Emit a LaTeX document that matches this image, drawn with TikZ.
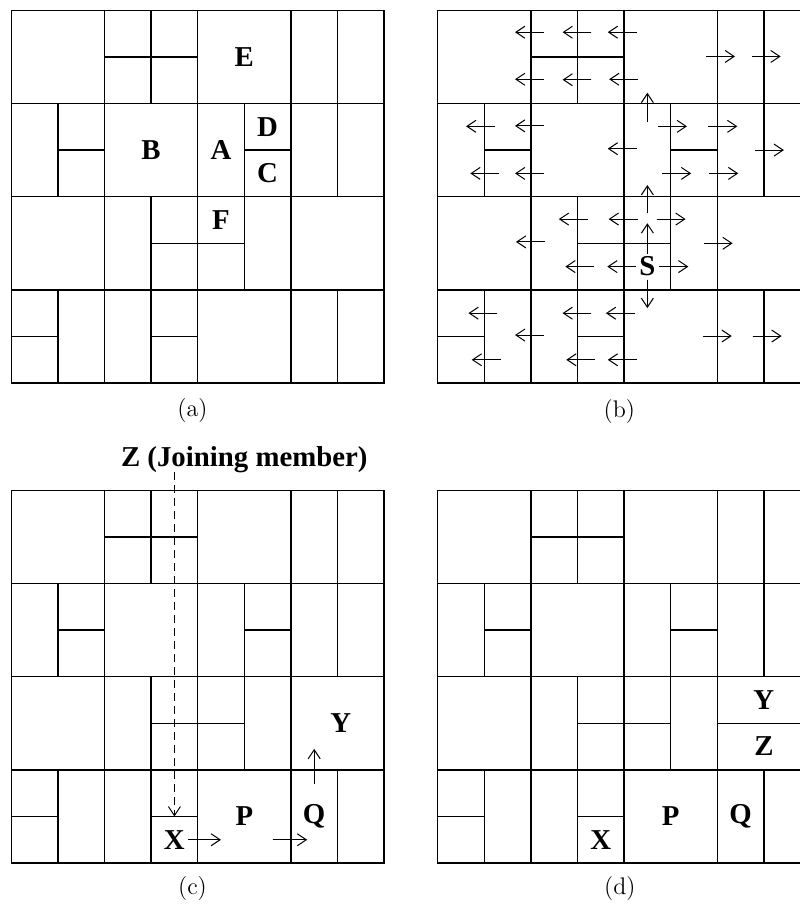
\documentclass[tikz,border=0pt]{standalone}
\usepackage{fontspec}
\newfontfamily\timesbf{Liberation Serif}
\usetikzlibrary{arrows.meta,calc}
\tikzset{
  gridline/.style={line width=0.75pt},
  arr/.style={line width=0.5pt,-{Straight Barb[length=4.5pt,width=6pt]}},
  lbl/.style={font=\timesbf\bfseries\fontsize{14.4pt}{17pt}\selectfont, inner sep=1.5pt},
  captxt/.style={font=\fontsize{12pt}{14pt}\selectfont, inner sep=0pt},
  joinline/.style={line width=0.5pt, dash pattern=on 4pt off 2.5pt, -{Straight Barb[length=4.5pt,width=6pt]}}
}
\newcommand\floorgrid{%
  \draw[gridline] (0,0) rectangle (8,-8);
  \foreach \r in {2,4,6} {\draw[gridline] (0,-\r) -- (8,-\r);}
  \foreach \c in {2,3,4,6,7} {\draw[gridline] (\c,0) -- (\c,-2);}
  \foreach \c in {1,2,4,5,6,7} {\draw[gridline] (\c,-2) -- (\c,-4);}
  \foreach \c in {2,3,4,5,6} {\draw[gridline] (\c,-4) -- (\c,-6);}
  \foreach \c in {1,2,3,4,6,7} {\draw[gridline] (\c,-6) -- (\c,-8);}
  \draw[gridline] (2,-1) -- (4,-1);
  \draw[gridline] (1,-3) -- (2,-3);
  \draw[gridline] (5,-3) -- (6,-3);
  \draw[gridline] (3,-5) -- (5,-5);
  \draw[gridline] (0,-7) -- (1,-7);
  \draw[gridline] (3,-7) -- (4,-7);
}
\begin{document}
\begin{tikzpicture}[x=23.3pt,y=23.3pt]
\useasboundingbox (-0.2425,0.221) rectangle (16.925,-19.243);
\clip (-0.2425,0.221) rectangle (16.925,-19.243);

% ---------- (a)
\begin{scope}
  \floorgrid
  \node[lbl] (aE) at (5,-1) {E};
  \node[lbl] (aB) at (3,-3) {B};
  \node[lbl] (aA) at (4.5,-3) {A};
  \node[lbl] (aD) at (5.5,-2.5) {D};
  \node[lbl] (aC) at (5.5,-3.5) {C};
  \node[lbl] (aF) at (4.5,-4.5) {F};
\end{scope}
\node[captxt] (capa) at (3.888,-8.58) {(a)};

% ---------- (b)
\begin{scope}[shift={(9.15,0)}]
  \floorgrid
  \node[lbl] (S) at (4.5,-5.5) {S};
  \foreach \x/\y [count=\i] in {2.28/0.47, 3.30/0.47, 4.27/0.47,
      2.28/1.48, 3.30/1.49, 4.30/1.48,
      1.23/2.49, 2.28/2.48, 4.27/2.97, 1.32/3.5, 2.28/3.5,
      3.22/4.48, 4.29/4.48, 2.30/4.97, 3.36/5.5,
      1.28/6.5, 3.30/6.5, 4.23/6.5, 2.28/6.97, 1.35/7.5, 3.38/7.5, 4.27/7.5} {
    \coordinate (bl\i s) at (\x,-\y);
    \coordinate (bl\i e) at (\x-0.62,-\y);
    \draw[arr] (bl\i s) -- (bl\i e);
  }
  \foreach \x/\y [count=\i] in {5.76/0.99, 6.74/0.99,
      4.73/2.49, 5.81/2.49, 6.81/3.0, 4.82/3.5, 5.83/3.5,
      4.70/4.48, 5.71/5.0, 5.69/6.99, 6.76/6.99} {
    \coordinate (br\i s) at (\x,-\y);
    \coordinate (br\i e) at (\x+0.62,-\y);
    \draw[arr] (br\i s) -- (br\i e);
  }
  \coordinate (bu1s) at (4.5,-2.39);
  \coordinate (bu1e) at (4.5,-1.77);
  \draw[arr] (bu1s) -- (bu1e);
  \coordinate (bu2s) at (4.5,-4.36);
  \coordinate (bu2e) at (4.5,-3.75);
  \draw[arr] (bu2s) -- (bu2e);
  \coordinate (sN) at (4.5,-4.57);
  \coordinate (sW) at (3.64,-5.5);
  \coordinate (sE) at (5.38,-5.5);
  \coordinate (sS) at (4.5,-6.39);
  \draw[arr] (S.north) -- (sN);
  \draw[arr] (S.west) -- (sW);
  \draw[arr] (S.east) -- (sE);
  \draw[arr] (S.south) -- (sS);
\end{scope}
\node[captxt] (capb) at (13.05,-8.61) {(b)};

% ---------- (c)
\begin{scope}[shift={(0,-10.3)}]
  \floorgrid
  \node[lbl] (cZ) at (5,0.665) {Z (Joining member)};
  \node[lbl] (cX) at (3.5,-7.5) {X};
  \node[lbl] (cP) at (5,-7) {P};
  \node[lbl] (cQ) at (6.5,-7) {Q};
  \node[lbl] (cY) at (7.07,-5) {Y};
  \coordinate (zs) at (3.5,0.39);
  \coordinate (ze) at (3.5,-7);
  \draw[joinline] (zs) -- (ze);
  \coordinate (xa) at (4.5,-7.5);
  \draw[arr] (cX.east) -- (xa);
  \coordinate (pa1) at (5.61,-7.5);
  \coordinate (pa2) at (6.35,-7.5);
  \draw[arr] (pa1) -- (pa2);
  \coordinate (qa1) at (6.5,-6.3);
  \coordinate (qa2) at (6.5,-5.55);
  \draw[arr] (qa1) -- (qa2);
\end{scope}
\node[captxt] (capc) at (3.888,-18.85) {(c)};

% ---------- (d)
\begin{scope}[shift={(9.15,-10.3)}]
  \floorgrid
  \draw[gridline] (6,-5) -- (8,-5);
  \node[lbl] (dX) at (3.5,-7.5) {X};
  \node[lbl] (dP) at (5,-7) {P};
  \node[lbl] (dQ) at (6.5,-7) {Q};
  \node[lbl] (dY) at (7,-4.5) {Y};
  \node[lbl] (dZ) at (7,-5.5) {Z};
\end{scope}
\node[captxt] (capd) at (13.06,-18.85) {(d)};
\end{tikzpicture}
\end{document}
